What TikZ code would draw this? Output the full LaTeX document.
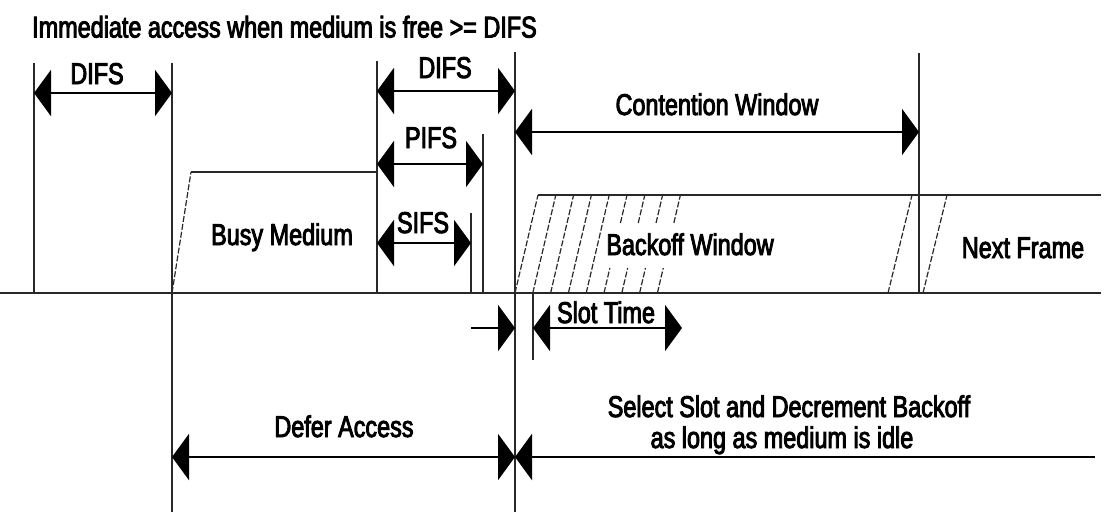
\documentclass[tikz,border=0pt]{standalone}
\usepackage{fontspec}
\setmainfont{Liberation Sans}[FakeStretch=0.78,FakeBold=3]
\usetikzlibrary{arrows.meta}
\definecolor{rule}{RGB}{40,40,40}
\tikzset{
  lbl/.style={anchor=base, inner sep=0pt, font=\fontsize{30}{30}\selectfont},
  tick/.style={draw=rule, line width=1.4pt},
  axis/.style={draw=rule, line width=2pt},
  edge/.style={draw=rule, line width=1.5pt},
  slant/.style={draw=rule, line width=1.2pt, dash pattern=on 6pt off 2pt},
  bigtip/.tip={Triangle[length=17pt,width=46pt]},
  span/.style={line width=2.8pt, bigtip-bigtip},
  toend/.style={line width=2.8pt, -bigtip},
  tostart/.style={line width=2.8pt, bigtip-},
}
\begin{document}
\begin{tikzpicture}[x=1pt,y=-1pt]
\useasboundingbox (0,0) rectangle (1105,512);

% time marks along the axis
\coordinate (d0) at (34,293);   % start of first DIFS
\coordinate (b0) at (172,293);  % medium becomes busy
\coordinate (b1) at (377,293);  % medium becomes free
\coordinate (s1) at (471,293);  % end of SIFS
\coordinate (p1) at (483,293);  % end of PIFS
\coordinate (c0) at (515,293);  % end of DIFS / start of contention
\coordinate (k1) at (533,293);  % first slot boundary
\coordinate (c1) at (919,293);  % end of contention window
\coordinate (axL) at (0,293);
\coordinate (axR) at (1101,293);

% title
\node[lbl, anchor=base west] (title) at (32,37.5) {Immediate access when medium is free >= DIFS};

% time axis
\draw[axis] (axL) -- (axR);

% vertical time marks
\draw[tick] (d0) -- (d0 |- 0,63);
\draw[tick] (b0 |- 0,63) -- (b0 |- 0,512);
\draw[tick] (b1) -- (b1 |- 0,61);
\draw[tick] (c0 |- 0,52) -- (c0 |- 0,512);
\draw[tick] (p1) -- (p1 |- 0,134);
\draw[tick] (s1) -- (s1 |- 0,213);
\draw[tick] (c1) -- (c1 |- 0,53);
\draw[tick] (k1) -- (k1 |- 0,360);

% busy medium frame
\draw[slant] (b0) -- (191,172);
\draw[edge] (191,172) -- (b1 |- 0,172);
\node[lbl] (busy) at (282,245) {Busy Medium};

% backoff window slots
\foreach \i in {0,...,4}{
  \draw[slant] ({515+17.8*\i},293) -- ({538+17.8*\i},195);
}
\foreach \i in {5,...,8}{
  \draw[slant] ({515+17.8*\i},293) -- ({515+17.8*\i+23*25/98},268);
  \draw[slant] ({515+17.8*\i+23*70/98},223) -- ({538+17.8*\i},195);
}
\draw[edge] (538,195) -- (1101,195);
\draw[slant] (888,293) -- (912,195);
\draw[slant] (923,293) -- (947,195);
\node[lbl] (backoff) at (690,255) {Backoff Window};
\node[lbl] (next) at (1023,258) {Next Frame};

% interframe spaces
\draw[span] (d0 |- 0,93) -- (b0 |- 0,93);
\node[lbl] (difsA) at (97,84) {DIFS};
\draw[span] (b1 |- 0,91) -- (c0 |- 0,91);
\node[lbl] (difsB) at (445,78) {DIFS};
\draw[span] (b1 |- 0,164) -- (p1 |- 0,164);
\node[lbl] (pifs) at (431,148) {PIFS};
\draw[span] (b1 |- 0,243) -- (s1 |- 0,243);
\node[lbl] (sifs) at (423,233) {SIFS};

% contention window
\draw[span] (c0 |- 0,132) -- (c1 |- 0,132);
\node[lbl] (cw) at (717,115) {Contention Window};

% slot time
\draw[toend] (s1 |- 0,328) -- (c0 |- 0,328);
\draw[span] (k1 |- 0,328) -- (682,328);
\node[lbl] (slot) at (606,323) {Slot Time};

% defer and backoff phases
\draw[span] (b0 |- 0,457) -- (c0 |- 0,457);
\node[lbl] (defer) at (344,437) {Defer Access};
\draw[tostart] (c0 |- 0,457) -- (1095,457);
\node[lbl, text depth=0pt] (sel1) at (789,417) {Select Slot and Decrement Backoff};
\node[lbl] (sel2) at (782,448) {as long as medium is idle};
\end{tikzpicture}
\end{document}
